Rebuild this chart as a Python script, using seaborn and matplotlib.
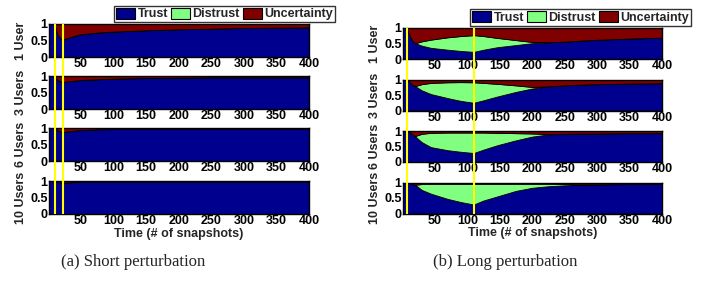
import numpy as np
import matplotlib
matplotlib.use("Agg")
import matplotlib.pyplot as plt
import seaborn as sns
from matplotlib.patches import Patch

# tempos de amostragem (snapshots)
t_short = [1, 10, 12, 14, 17, 20, 23, 30, 40, 50, 75, 100, 150, 200, 250, 300, 350, 400]
t_long = [1, 7, 10, 13, 16, 20, 30, 44, 70, 90, 110, 125, 146, 175, 200, 225, 250, 280, 300, 350, 400]

# perturbacao curta (a)
short_trust_1 = [1, 1, 0.80, 0.68, 0.60, 0.55, 0.53, 0.58, 0.64, 0.69, 0.74, 0.77, 0.81, 0.84, 0.86, 0.88, 0.89, 0.90]
short_trust_3 = [1, 1, 0.93, 0.88, 0.85, 0.83, 0.82, 0.84, 0.86, 0.88, 0.90, 0.92, 0.94, 0.95, 0.96, 0.96, 0.96, 0.96]
short_trust_6 = [1, 1, 0.96, 0.93, 0.91, 0.89, 0.88, 0.90, 0.92, 0.94, 0.96, 0.97, 0.97, 0.98, 0.98, 0.98, 0.98, 0.98]
short_trust_10 = [1, 1, 0.98, 0.97, 0.96, 0.955, 0.95, 0.96, 0.965, 0.97, 0.975, 0.98, 0.98, 0.98, 0.98, 0.98, 0.98, 0.98]
short_distrust = [0] * len(t_short)

# perturbacao longa (b)
long_trust_1 = [1, 1, 0.82, 0.68, 0.58, 0.51, 0.43, 0.36, 0.30, 0.26, 0.23, 0.30, 0.38, 0.45, 0.51, 0.54, 0.56, 0.60, 0.62, 0.66, 0.69]
long_distrust_1 = [0, 0, 0, 0, 0, 0, 0.14, 0.265, 0.40, 0.48, 0.54, 0.44, 0.30, 0.16, 0.04, 0, 0, 0, 0, 0, 0]
long_trust_3 = [1, 1, 0.95, 0.87, 0.83, 0.78, 0.65, 0.53, 0.40, 0.31, 0.25, 0.33, 0.45, 0.60, 0.71, 0.78, 0.81, 0.84, 0.85, 0.87, 0.88]
long_distrust_3 = [0, 0, 0, 0, 0, 0.01, 0.20, 0.36, 0.51, 0.605, 0.66, 0.56, 0.41, 0.21, 0.05, 0, 0, 0, 0, 0, 0]
long_trust_6 = [1, 1, 0.98, 0.94, 0.88, 0.82, 0.64, 0.48, 0.38, 0.33, 0.29, 0.40, 0.54, 0.70, 0.82, 0.89, 0.91, 0.92, 0.92, 0.93, 0.93]
long_distrust_6 = [0, 0, 0, 0, 0, 0.02, 0.27, 0.46, 0.57, 0.62, 0.66, 0.55, 0.40, 0.23, 0.10, 0.01, 0, 0, 0, 0, 0]
long_trust_10 = [1, 1, 0.99, 0.97, 0.95, 0.92, 0.76, 0.64, 0.47, 0.37, 0.29, 0.42, 0.55, 0.73, 0.83, 0.88, 0.91, 0.93, 0.94, 0.95, 0.95]
long_distrust_10 = [0, 0, 0, 0, 0, 0.01, 0.19, 0.32, 0.49, 0.59, 0.67, 0.54, 0.41, 0.23, 0.13, 0.08, 0.04, 0.01, 0, 0, 0]

user_labels = ["1 User", "3 Users", "6 Users", "10 Users"]
series_labels = ["Trust", "Distrust", "Uncertainty"]
xticks = [50, 100, 150, 200, 250, 300, 350, 400]
short_marks = [10, 23]
long_marks = [7, 110]
captions = ["(a) Short perturbation", "(b) Long perturbation"]

colors = ["#00008F", "#80FF80", "#800000"]

sns.set_style("white")
plt.rcParams["font.family"] = ["Liberation Sans", "DejaVu Sans"]
plt.rcParams["font.weight"] = "bold"
plt.rcParams["axes.labelweight"] = "bold"

W, H = 710, 283
fig = plt.figure(figsize=(W / 100, H / 100), dpi=100)


def px_axes(left, top, width, height):
    return fig.add_axes([left / W, 1 - (top + height) / H, width / W, height / H])


panels = [
    dict(t=t_short, trust=[short_trust_1, short_trust_3, short_trust_6, short_trust_10],
         distrust=[short_distrust] * 4, marks=short_marks, left=49, width=260,
         tops=[24, 76, 128, 181], h=33, legend=(224.5, 14), cap=(133, 262)),
    dict(t=t_long, trust=[long_trust_1, long_trust_3, long_trust_6, long_trust_10],
         distrust=[long_distrust_1, long_distrust_3, long_distrust_6, long_distrust_10],
         marks=long_marks, left=403, width=259,
         tops=[28, 79.5, 131, 182.5], h=31, legend=(580.5, 17.5), cap=(505, 262)),
]

for k, p in enumerate(panels):
    t = np.array(p["t"])
    for i, top in enumerate(p["tops"]):
        ax = px_axes(p["left"], top, p["width"], p["h"])
        trust = np.array(p["trust"][i])
        distrust = np.array(p["distrust"][i])
        unc = 1 - trust - distrust
        ax.stackplot(t, trust, distrust, unc, colors=colors,
                     edgecolor="black", linewidth=0.6)
        ax.set_xlim(1, 400)
        ax.set_ylim(0, 1)
        ax.set_xticks(xticks)
        ax.set_yticks([0, 0.5, 1])
        ax.set_yticklabels(["0", "0.5", "1"])
        ax.tick_params(direction="in", length=2, labelsize=9, pad=1.0,
                       colors="black")
        for s in ax.spines.values():
            s.set_color("black")
            s.set_linewidth(1.0)
        ax.set_ylabel(user_labels[i], fontsize=9, labelpad=0)
        ax.yaxis.set_label_coords(-22 / p["width"], 0.5)
        if i == 3:
            ax.set_xlabel("Time (# of snapshots)", fontsize=9)
            ax.xaxis.set_label_coords(0.5, -13.5 / p["h"])

    # linhas amarelas da perturbacao
    top0 = p["tops"][0]
    bottom = p["tops"][3] + p["h"]
    ov = px_axes(p["left"], top0, p["width"], bottom - top0)
    ov.set_xlim(1, 400)
    ov.axis("off")
    for m in p["marks"]:
        ov.axvline(m, color="#FFFF00", linewidth=1.5)

    handles = [Patch(facecolor=c, edgecolor="black", linewidth=0.8) for c in colors]
    lx, ly = p["legend"]
    leg = fig.legend(handles, series_labels, loc="center",
                     bbox_to_anchor=(lx / W, 1 - ly / H), ncol=3,
                     fontsize=9, frameon=True, fancybox=False,
                     handlelength=1.5, handleheight=1.0, handletextpad=0.2,
                     columnspacing=0.25, borderpad=0.15, borderaxespad=0)
    leg.get_frame().set_edgecolor("black")
    leg.get_frame().set_linewidth(1.0)

    cx, cy = p["cap"]
    fig.text(cx / W, 1 - cy / H, captions[k], ha="center",
             va="center", fontsize=12, fontweight="normal",
             family=["Liberation Serif", "DejaVu Serif"])

fig.savefig("out.png", dpi=100)
